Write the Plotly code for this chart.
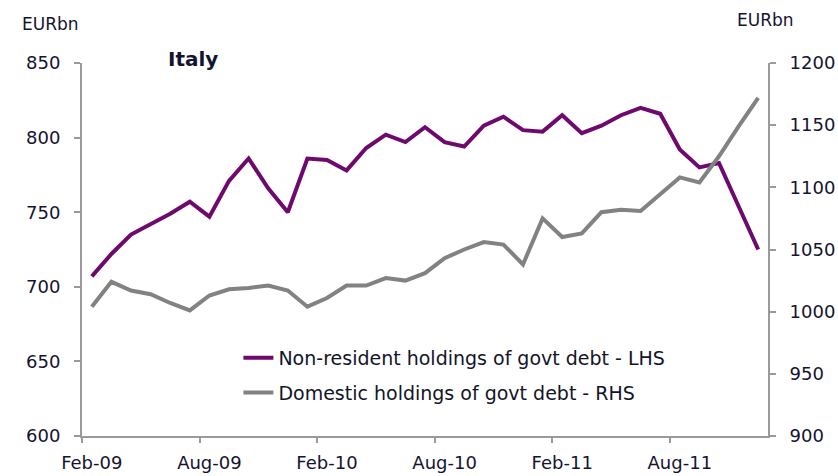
import pandas as pd
import plotly.graph_objects as go

# monthly, Feb-09 .. Dec-11
months = pd.date_range("2009-02-01", periods=35, freq="MS")
month_labels = [m.strftime("%b-%y") for m in months]

non_resident = [707, 722, 735, 742, 749, 757, 747, 771, 786, 766,
                750, 786, 785, 778, 793, 802, 797, 807, 797, 794,
                808, 814, 805, 804, 815, 803, 808, 815, 820, 816,
                792, 780, 783, 754, 725]

domestic = [1004, 1024, 1017, 1014, 1007, 1001, 1013, 1018, 1019, 1021,
            1017, 1004, 1011, 1021, 1021, 1027, 1025, 1031, 1043, 1050,
            1056, 1054, 1038, 1075, 1060, 1063, 1080, 1082, 1081, 1094,
            1108, 1104, 1125, 1149, 1172]

label_every = 6
font_name = "DejaVu Sans"
axis_c = "#9a9a9a"

x = list(range(len(months)))

fig = go.Figure()
fig.add_trace(go.Scatter(x=x, y=non_resident, mode="lines",
                         name="Non-resident holdings of govt debt - LHS",
                         line=dict(color="#6e0a6e", width=4),
                         legendgroup="a"))
fig.add_trace(go.Scatter(x=x, y=domestic, mode="lines", yaxis="y2",
                         name="Domestic holdings of govt debt - RHS",
                         line=dict(color="#828282", width=4),
                         legendgroup="b"))
# invisible trace to drive the boundary tick axis
fig.add_trace(go.Scatter(x=[x[0], x[-1]], y=[None, None], xaxis="x2",
                         showlegend=False, hoverinfo="skip"))

xr = [-0.5, len(x) - 0.5]
fig.update_layout(
    width=838, height=476,
    margin=dict(l=82, r=70, t=63, b=40, autoexpand=False),
    paper_bgcolor="white", plot_bgcolor="white",
    font=dict(family=font_name, size=18, color="#141430"),
    showlegend=True,
    legend=dict(x=0.228, y=0.26, xanchor="left", yanchor="top",
                bgcolor="rgba(0,0,0,0)", font=dict(size=19, color="#141428"),
                traceorder="grouped", tracegroupgap=7),
    xaxis=dict(range=xr, showgrid=False, zeroline=False, automargin=False,
               showline=True, linecolor=axis_c, linewidth=2,
               tickvals=x[::label_every], ticktext=month_labels[::label_every],
               ticks="", ticklabelstandoff=9),
    xaxis2=dict(range=xr, overlaying="x", side="bottom", showgrid=False,
                zeroline=False, showline=False, automargin=False,
                tickvals=[v - 0.5 for v in x[::label_every]],
                ticktext=["" for _ in x[::label_every]],
                ticks="outside", ticklen=6, tickwidth=2, tickcolor=axis_c),
    yaxis=dict(range=[600, 850], dtick=50, showgrid=False, zeroline=False,
               showline=True, linecolor=axis_c, linewidth=2, automargin=False,
               ticks="outside", ticklen=6, tickwidth=2, tickcolor=axis_c,
               ticklabelstandoff=10),
    yaxis2=dict(range=[900, 1200], dtick=50, overlaying="y", side="right",
                showgrid=False, zeroline=False, automargin=False,
                showline=True, linecolor=axis_c, linewidth=2,
                ticks="outside", ticklen=6, tickwidth=2, tickcolor=axis_c,
                ticklabelstandoff=10),
    annotations=[
        dict(text="EURbn", xref="paper", yref="paper", x=-0.09, y=1.105,
             xanchor="left", yanchor="middle", showarrow=False,
             font=dict(size=17)),
        dict(text="EURbn", xref="paper", yref="paper", x=0.952, y=1.115,
             xanchor="left", yanchor="middle", showarrow=False,
             font=dict(size=17)),
        dict(text="<b>Italy</b>", xref="paper", yref="paper", x=0.122, y=1.01,
             xanchor="left", yanchor="middle", showarrow=False,
             font=dict(size=20)),
    ],
)

fig.write_html("out.html", config={"displayModeBar": False},
               post_script="document.body.style.margin='0';")
